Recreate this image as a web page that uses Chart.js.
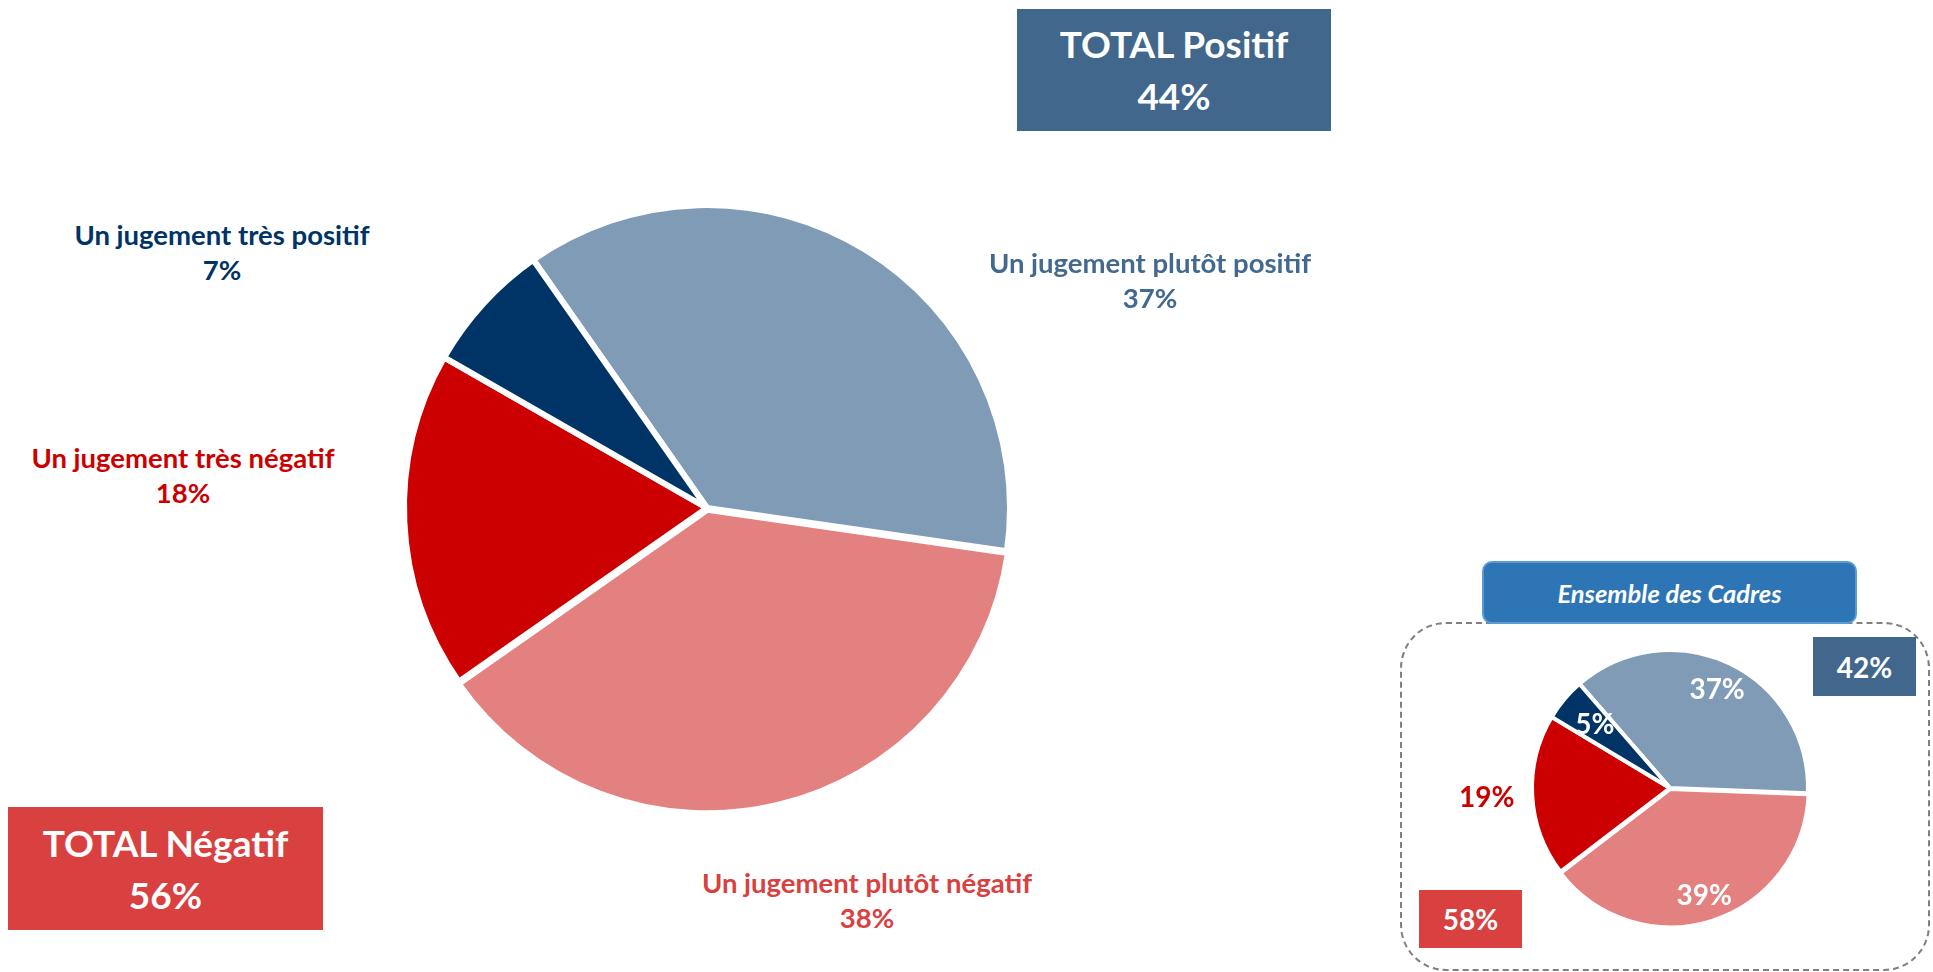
<!DOCTYPE html>
<html lang="fr">
<head>
<meta charset="utf-8">
<title>Jugement</title>
<script src="https://cdn.jsdelivr.net/npm/chart.js@4.4.1/dist/chart.umd.min.js"></script>
<style>
  html, body { margin: 0; padding: 0; background: #fff; }
  body {
    width: 1933px; height: 972px; position: relative; overflow: hidden;
    font-family: Lato, "Open Sans", sans-serif; font-weight: 700;
  }
  canvas { position: absolute; }
  .lbl {
    position: absolute; transform: translate(-50%, -50%);
    text-align: center; white-space: nowrap; font-size: 27.5px; line-height: 35px;
  }
  .box {
    position: absolute; color: #fff; display: flex; flex-direction: column;
    align-items: center; justify-content: center; text-align: center; z-index: 2;
  }
  .total { font-size: 37px; line-height: 52px; }
  .small { font-size: 28px; }
  #cadresFrame {
    position: absolute; left: 1400px; top: 622px; width: 526px; height: 345px;
    border: 2px dashed #808080; border-radius: 46px; z-index: 1;
  }
  #cadresTitle {
    left: 1482px; top: 561px; width: 371px; height: 59px;
    background: #2e75b6; border: 2px solid #5b9bd5; border-radius: 10px;
    font-size: 25.5px; font-style: italic;
  }
</style>
</head>
<body>
<canvas id="mainPie" width="660" height="660" style="left:377px; top:178px;"></canvas>
<canvas id="cadresPie" width="480" height="400" style="left:1430px; top:588px;"></canvas>

<div class="box total" id="totalPos" style="left:1017px; top:9px; width:314px; height:122px; background:#41678c;"></div>
<div class="box total" id="totalNeg" style="left:8px; top:807px; width:315px; height:123px; background:#d94141;"></div>

<div class="lbl" id="lbl0" style="left:1150px; top:280px;"></div>
<div class="lbl" id="lbl1" style="left:867px; top:900px;"></div>
<div class="lbl" id="lbl2" style="left:183px; top:475px;"></div>
<div class="lbl" id="lbl3" style="left:222px; top:252px;"></div>

<div id="cadresFrame"></div>
<div class="box" id="cadresTitle">Ensemble des Cadres</div>
<div class="box small" id="cadresPos" style="left:1813px; top:637px; width:103px; height:59px; background:#41678c;"></div>
<div class="box small" id="cadresNeg" style="left:1419px; top:890px; width:103px; height:58px; background:#d94141;"></div>

<script>
// Data (slice order follows the pie clockwise from the top-left)
const categories = ['Un jugement plutôt positif', 'Un jugement plutôt négatif', 'Un jugement très négatif', 'Un jugement très positif'];
const valuesEnsemble = [37, 38, 18, 7];
const valuesCadres = [37, 39, 19, 5];
const totalNames = ['TOTAL Positif', 'TOTAL Négatif'];
const totalsEnsemble = [44, 56];
const totalsCadres = [42, 58];

const sliceColors = ['#7f9bb5', '#e38080', '#cc0000', '#003366'];
const labelColors = ['#43698f', '#d94040', '#cc0000', '#003366'];

// Text labels from the data
categories.forEach((name, i) => {
  const el = document.getElementById('lbl' + i);
  el.style.color = labelColors[i];
  el.innerHTML = name + '<br>' + valuesEnsemble[i] + '%';
});
document.getElementById('totalPos').innerHTML = totalNames[0] + '<br>' + totalsEnsemble[0] + '%';
document.getElementById('totalNeg').innerHTML = totalNames[1] + '<br>' + totalsEnsemble[1] + '%';
document.getElementById('cadresPos').textContent = totalsCadres[0] + '%';
document.getElementById('cadresNeg').textContent = totalsCadres[1] + '%';

// Percent labels drawn along each slice's mid angle
const sliceLabels = {
  id: 'sliceLabels',
  afterDatasetsDraw(chart, args, opts) {
    if (!opts.radii) return;
    const ctx = chart.ctx;
    const values = chart.data.datasets[0].data;
    chart.getDatasetMeta(0).data.forEach((arc, i) => {
      const p = arc.getProps(['x', 'y', 'startAngle', 'endAngle', 'outerRadius'], true);
      const mid = (p.startAngle + p.endAngle) / 2;
      const r = p.outerRadius * opts.radii[i];
      ctx.save();
      ctx.fillStyle = opts.colors[i];
      ctx.font = opts.font;
      ctx.textAlign = 'center';
      ctx.textBaseline = 'middle';
      ctx.fillText(values[i] + '%', p.x + Math.cos(mid) * r, p.y + Math.sin(mid) * r);
      ctx.restore();
    });
  }
};

function makePie(id, values, radius, rotation, border, offsets, labelOpts) {
  return new Chart(document.getElementById(id), {
    type: 'pie',
    data: {
      labels: categories,
      datasets: [{
        data: values,
        backgroundColor: sliceColors,
        borderColor: '#ffffff',
        borderWidth: border,
        offset: offsets,
        radius: radius
      }]
    },
    options: {
      responsive: false,
      animation: false,
      rotation: rotation,
      plugins: { legend: { display: false }, tooltip: { enabled: false }, sliceLabels: labelOpts }
    },
    plugins: [sliceLabels]
  });
}

makePie('mainPie', valuesEnsemble, 303, -35, 6, [0, 7, 0, 0], {});
makePie('cadresPie', valuesCadres, 138, -41, 4, [0, 4, 0, 0], {
  radii: [0.79, 0.82, 1.33, 0.71],
  colors: ['#ffffff', '#ffffff', '#cc0000', '#ffffff'],
  font: 'bold 28px Lato, "Open Sans", sans-serif'
});
</script>
</body>
</html>
